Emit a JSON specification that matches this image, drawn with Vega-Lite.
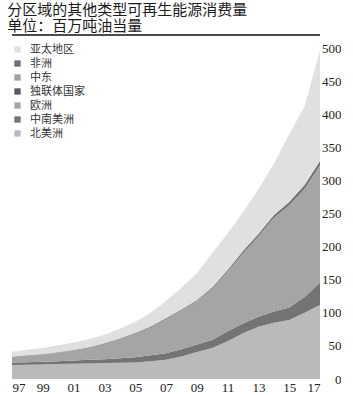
{
  "$schema": "https://vega.github.io/schema/vega-lite/v6.json",
  "width": 308,
  "height": 344,
  "padding": {"left": 7, "right": 0, "top": 3, "bottom": 0},
  "background": "white",
  "title": {
    "text": ["分区域的其他类型可再生能源消费量", "单位：百万吨油当量"],
    "anchor": "start",
    "frame": "bounds",
    "dx": -4,
    "font": "Noto Sans CJK SC",
    "fontSize": 15,
    "fontWeight": "normal",
    "color": "#1a1a1a",
    "lineHeight": 16,
    "offset": 0
  },
  "config": {"view": {"stroke": null}},
  "layer": [
    {
      "data": {"values": [
        {"year":1997,"region":"北美洲","value":21},{"year":1998,"region":"北美洲","value":21.5},{"year":1999,"region":"北美洲","value":22},{"year":2000,"region":"北美洲","value":22.5},{"year":2001,"region":"北美洲","value":23},{"year":2002,"region":"北美洲","value":23.5},{"year":2003,"region":"北美洲","value":24},{"year":2004,"region":"北美洲","value":24.5},{"year":2005,"region":"北美洲","value":25},{"year":2006,"region":"北美洲","value":27},{"year":2007,"region":"北美洲","value":29},{"year":2008,"region":"北美洲","value":34},{"year":2009,"region":"北美洲","value":41},{"year":2010,"region":"北美洲","value":47},{"year":2011,"region":"北美洲","value":57},{"year":2012,"region":"北美洲","value":69},{"year":2013,"region":"北美洲","value":79},{"year":2014,"region":"北美洲","value":85},{"year":2015,"region":"北美洲","value":89},{"year":2016,"region":"北美洲","value":100},{"year":2017,"region":"北美洲","value":112},
        {"year":1997,"region":"中南美洲","value":4},{"year":1998,"region":"中南美洲","value":4},{"year":1999,"region":"中南美洲","value":4},{"year":2000,"region":"中南美洲","value":4.5},{"year":2001,"region":"中南美洲","value":5},{"year":2002,"region":"中南美洲","value":5.5},{"year":2003,"region":"中南美洲","value":6},{"year":2004,"region":"中南美洲","value":7},{"year":2005,"region":"中南美洲","value":8},{"year":2006,"region":"中南美洲","value":9},{"year":2007,"region":"中南美洲","value":10},{"year":2008,"region":"中南美洲","value":11},{"year":2009,"region":"中南美洲","value":11},{"year":2010,"region":"中南美洲","value":12},{"year":2011,"region":"中南美洲","value":15},{"year":2012,"region":"中南美洲","value":15},{"year":2013,"region":"中南美洲","value":15},{"year":2014,"region":"中南美洲","value":17},{"year":2015,"region":"中南美洲","value":19},{"year":2016,"region":"中南美洲","value":24},{"year":2017,"region":"中南美洲","value":34},
        {"year":1997,"region":"欧洲","value":8},{"year":1998,"region":"欧洲","value":9.5},{"year":1999,"region":"欧洲","value":11},{"year":2000,"region":"欧洲","value":13},{"year":2001,"region":"欧洲","value":15},{"year":2002,"region":"欧洲","value":18},{"year":2003,"region":"欧洲","value":23},{"year":2004,"region":"欧洲","value":28.5},{"year":2005,"region":"欧洲","value":35},{"year":2006,"region":"欧洲","value":42},{"year":2007,"region":"欧洲","value":51},{"year":2008,"region":"欧洲","value":58},{"year":2009,"region":"欧洲","value":65},{"year":2010,"region":"欧洲","value":77},{"year":2011,"region":"欧洲","value":90},{"year":2012,"region":"欧洲","value":106},{"year":2013,"region":"欧洲","value":121},{"year":2014,"region":"欧洲","value":141},{"year":2015,"region":"欧洲","value":154},{"year":2016,"region":"欧洲","value":163},{"year":2017,"region":"欧洲","value":176},
        {"year":1997,"region":"独联体国家","value":0.2},{"year":1998,"region":"独联体国家","value":0.2},{"year":1999,"region":"独联体国家","value":0.2},{"year":2000,"region":"独联体国家","value":0.2},{"year":2001,"region":"独联体国家","value":0.2},{"year":2002,"region":"独联体国家","value":0.2},{"year":2003,"region":"独联体国家","value":0.2},{"year":2004,"region":"独联体国家","value":0.2},{"year":2005,"region":"独联体国家","value":0.3},{"year":2006,"region":"独联体国家","value":0.3},{"year":2007,"region":"独联体国家","value":0.3},{"year":2008,"region":"独联体国家","value":0.3},{"year":2009,"region":"独联体国家","value":0.3},{"year":2010,"region":"独联体国家","value":0.3},{"year":2011,"region":"独联体国家","value":0.3},{"year":2012,"region":"独联体国家","value":0.4},{"year":2013,"region":"独联体国家","value":0.4},{"year":2014,"region":"独联体国家","value":0.4},{"year":2015,"region":"独联体国家","value":0.5},{"year":2016,"region":"独联体国家","value":0.5},{"year":2017,"region":"独联体国家","value":0.6},
        {"year":1997,"region":"中东","value":0.05},{"year":1998,"region":"中东","value":0.05},{"year":1999,"region":"中东","value":0.05},{"year":2000,"region":"中东","value":0.05},{"year":2001,"region":"中东","value":0.05},{"year":2002,"region":"中东","value":0.05},{"year":2003,"region":"中东","value":0.05},{"year":2004,"region":"中东","value":0.05},{"year":2005,"region":"中东","value":0.05},{"year":2006,"region":"中东","value":0.05},{"year":2007,"region":"中东","value":0.1},{"year":2008,"region":"中东","value":0.1},{"year":2009,"region":"中东","value":0.1},{"year":2010,"region":"中东","value":0.1},{"year":2011,"region":"中东","value":0.2},{"year":2012,"region":"中东","value":0.2},{"year":2013,"region":"中东","value":0.3},{"year":2014,"region":"中东","value":0.4},{"year":2015,"region":"中东","value":0.5},{"year":2016,"region":"中东","value":0.6},{"year":2017,"region":"中东","value":0.8},
        {"year":1997,"region":"非洲","value":0.5},{"year":1998,"region":"非洲","value":0.5},{"year":1999,"region":"非洲","value":0.6},{"year":2000,"region":"非洲","value":0.6},{"year":2001,"region":"非洲","value":0.7},{"year":2002,"region":"非洲","value":0.8},{"year":2003,"region":"非洲","value":0.9},{"year":2004,"region":"非洲","value":1.0},{"year":2005,"region":"非洲","value":1.1},{"year":2006,"region":"非洲","value":1.2},{"year":2007,"region":"非洲","value":1.4},{"year":2008,"region":"非洲","value":1.6},{"year":2009,"region":"非洲","value":1.8},{"year":2010,"region":"非洲","value":2.1},{"year":2011,"region":"非洲","value":2.4},{"year":2012,"region":"非洲","value":2.8},{"year":2013,"region":"非洲","value":3.3},{"year":2014,"region":"非洲","value":3.8},{"year":2015,"region":"非洲","value":4.5},{"year":2016,"region":"非洲","value":5.2},{"year":2017,"region":"非洲","value":6.0},
        {"year":1997,"region":"亚太地区","value":7.3},{"year":1998,"region":"亚太地区","value":8.3},{"year":1999,"region":"亚太地区","value":9.2},{"year":2000,"region":"亚太地区","value":10.2},{"year":2001,"region":"亚太地区","value":11.1},{"year":2002,"region":"亚太地区","value":12.0},{"year":2003,"region":"亚太地区","value":12.9},{"year":2004,"region":"亚太地区","value":14.8},{"year":2005,"region":"亚太地区","value":16.6},{"year":2006,"region":"亚太地区","value":20.5},{"year":2007,"region":"亚太地区","value":26.2},{"year":2008,"region":"亚太地区","value":33.0},{"year":2009,"region":"亚太地区","value":40.8},{"year":2010,"region":"亚太地区","value":51.5},{"year":2011,"region":"亚太地区","value":55.1},{"year":2012,"region":"亚太地区","value":58.6},{"year":2013,"region":"亚太地区","value":68.0},{"year":2014,"region":"亚太地区","value":77.4},{"year":2015,"region":"亚太地区","value":102.5},{"year":2016,"region":"亚太地区","value":118.7},{"year":2017,"region":"亚太地区","value":167.6}
      ]},
      "transform": [
        {"calculate": "indexof(['北美洲','中南美洲','欧洲','独联体国家','中东','非洲','亚太地区'], datum.region)", "as": "k"}
      ],
      "mark": {"type": "area", "interpolate": "linear"},
      "encoding": {
        "x": {
          "field": "year", "type": "quantitative",
          "scale": {"domain": [1997, 2017], "nice": false, "zero": false},
          "axis": {
            "title": null,
            "values": [1997, 1999, 2001, 2003, 2005, 2007, 2009, 2011, 2013, 2015, 2017],
            "labelExpr": "substring(toString(datum.value), 2)",
            "labelFlush": true,
            "labelOverlap": false,
            "ticks": false, "domain": false, "grid": false,
            "labelPadding": 2,
            "labelFont": "Liberation Serif", "labelFontSize": 13, "labelColor": "#222"
          }
        },
        "y": {
          "field": "value", "type": "quantitative", "stack": "zero",
          "scale": {"domain": [0, 520], "nice": false},
          "axis": {
            "orient": "right",
            "title": null,
            "values": [0, 50, 100, 150, 200, 250, 300, 350, 400, 450, 500],
            "labelOverlap": false,
            "ticks": false, "domain": false, "grid": false,
            "labelAlign": "right", "labelPadding": 21,
            "labelFont": "Liberation Serif", "labelFontSize": 13, "labelColor": "#222"
          }
        },
        "color": {
          "field": "region", "type": "nominal",
          "scale": {
            "domain": ["亚太地区", "非洲", "中东", "独联体国家", "欧洲", "中南美洲", "北美洲"],
            "range": ["#e0e0e0", "#6e6e6e", "#a2a2a2", "#5a5a5a", "#a5a5a5", "#747474", "#bababa"]
          },
          "legend": {
            "title": null,
            "orient": "none",
            "legendX": 0,
            "legendY": 9,
            "symbolType": "square",
            "symbolSize": 40,
            "symbolStrokeWidth": 0,
            "symbolOpacity": 1,
            "labelFont": "Noto Sans CJK SC",
            "labelFontSize": 11,
            "labelColor": "#333",
            "labelOffset": 7,
            "rowPadding": 2
          }
        },
        "order": {"field": "k", "type": "quantitative", "sort": "ascending"}
      }
    },
    {
      "data": {"values": [{}]},
      "mark": {"type": "rule", "color": "#111", "strokeWidth": 1.3},
      "encoding": {
        "y": {
          "datum": 520,
          "type": "quantitative",
          "axis": {
            "orient": "right",
            "title": null,
            "values": [0, 50, 100, 150, 200, 250, 300, 350, 400, 450, 500],
            "labelOverlap": false,
            "ticks": false, "domain": false, "grid": false,
            "labelAlign": "right", "labelPadding": 21,
            "labelFont": "Liberation Serif", "labelFontSize": 13, "labelColor": "#222"
          }
        }
      }
    }
  ]
}
